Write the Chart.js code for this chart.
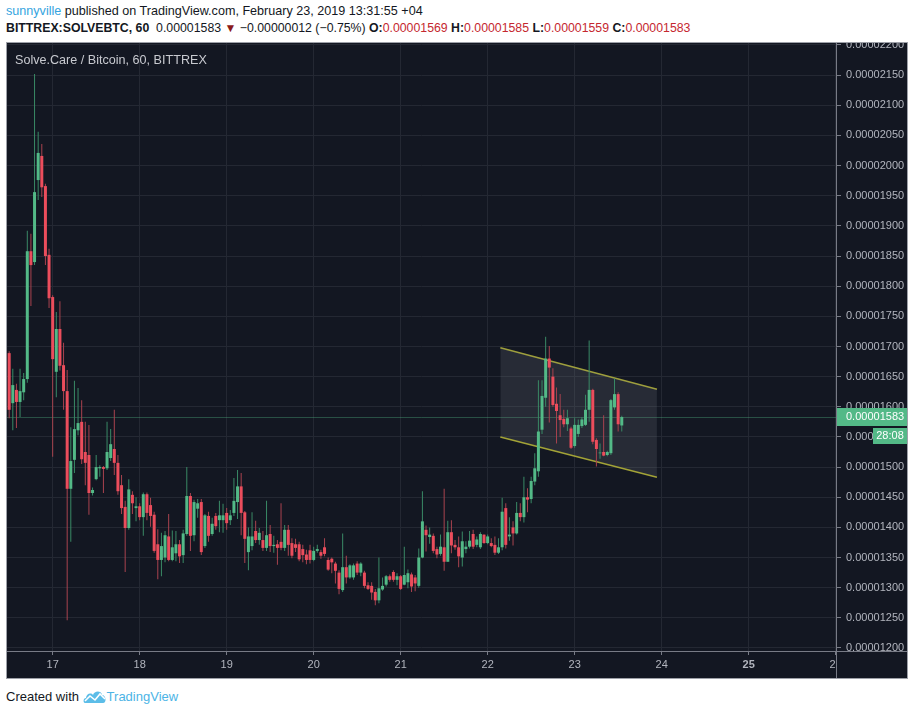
<!DOCTYPE html>
<html>
<head>
<meta charset="utf-8">
<title>SOLVEBTC, 60</title>
<script src="https://cdn.jsdelivr.net/npm/chart.js@4.4.1/dist/chart.umd.min.js"></script>
<style>
  body { margin:0; background:#fff; width:920px; height:715px; position:relative; overflow:hidden;
         font-family:"Liberation Sans", Arial, sans-serif; }
  .hdr { position:absolute; left:6px; font-size:12.6px; color:#131722; white-space:nowrap; }
  #hdr1 { top:4px; }
  #hdr2 { top:21px; font-size:12.3px; }
  .user { color:#35a4e0; }
  .red { color:#c5272f; }
  .tri { color:#8b1a1a; font-size:12px; }
  #frame { position:absolute; left:6px; top:42px; width:900px; height:635px; border:1px solid #9da0a8; background:#131722; }
  #myChart { display:block; }
  #title { position:absolute; left:8px; top:10px; color:#c8cad0; font-size:12.6px; white-space:nowrap; }
  #footer { position:absolute; left:6px; top:689px; font-size:13px; color:#131722; white-space:nowrap; }
  #footer .tv { color:#4cb4e6; }
</style>
</head>
<body>
<div class="hdr" id="hdr1"><span class="user">sunnyville</span> published on TradingView.com, February 23, 2019 13:31:55 +04</div>
<div class="hdr" id="hdr2"><b>BITTREX:SOLVEBTC, 60</b>&nbsp; 0.00001583 <span class="tri">&#9660;</span> &minus;0.00000012 (&minus;0.75%) <b>O:</b><span class="red">0.00001569</span> <b>H:</b><span class="red">0.00001585</span> <b>L:</b><span class="red">0.00001559</span> <b>C:</b><span class="red">0.00001583</span></div>

<div id="frame">
  <canvas id="myChart" width="900" height="635"></canvas>
  <div id="title">Solve.Care / Bitcoin, 60, BITTREX</div>
</div>

<div id="footer">Created with <svg width="24" height="15" viewBox="0 0 24 15" style="vertical-align:-3px"><path d="M2 14 C0 14 0 9 3 9 C3 5 8 3 10 6 C11 2 18 1 19 6 C23 6 24 14 20 14 Z" fill="#5cbde8"/><polyline points="2,12 7,7 12,11 17,5 22,10" fill="none" stroke="#fff" stroke-width="1.6"/></svg><span class="tv">TradingView</span></div>

<script>
// hourly candles, first one is Feb 16 12:00 (hours counted from Feb 16 00:00)
// prices are in satoshi (1e-8 BTC)
const firstHour = 12;

const openSat = [
  1689,1606,1628,1608,1624,1646,1858,1840,1976,2016,
  1966,1852,1782,1658,1729,1669,1626,1464,1512,1561,
  1575,1525,1520,1457,1480,1498,1500,1498,1515,1530,
  1507,1470,1434,1399,1454,1432,1435,1417,1455,1437,
  1421,1372,1346,1350,1385,1346,1357,1372,1354,1389,
  1452,1387,1431,1442,1369,1419,1389,1419,1412,1412,
  1424,1412,1424,1442,1468,1425,1359,1369,1394,1379,
  1379,1366,1389,1369,1372,1376,1366,1396,1374,1372,
  1372,1364,1355,1362,1346,1361,1359,1367,1346,1348,
  1340,1325,1296,1334,1317,1317,1340,1325,1325,1304,
  1303,1293,1279,1297,1305,1319,1326,1313,1319,1305,
  1309,1322,1317,1303,1350,1396,1384,1386,1364,1356,
  1367,1343,1392,1371,1367,1350,1364,1368,1389,1371,
  1367,1388,1374,1374,1371,1358,1367,1432,1385,1400,
  1390,1424,1417,1450,1447,1476,1493,1562,1615,1680,
  1650,1605,1586,1580,1571,1564,1535,1555,1568,1570,
  1595,1628,1545,1523,1525,1520,1523,1599,1621,1569
];
const highSat = [
  1692,1663,1638,1663,1656,1892,1887,2152,2056,2036,
  1970,1862,1785,1757,1775,1706,1661,1566,1643,1631,
  1611,1575,1570,1466,1520,1503,1502,1575,1563,1595,
  1520,1487,1444,1480,1460,1450,1440,1458,1458,1449,
  1426,1397,1391,1394,1422,1395,1394,1379,1396,1500,
  1457,1446,1447,1447,1422,1426,1416,1424,1444,1439,
  1432,1429,1482,1495,1490,1427,1400,1425,1411,1399,
  1394,1444,1404,1386,1379,1440,1404,1404,1382,1381,
  1376,1371,1363,1371,1368,1371,1363,1382,1350,1350,
  1343,1329,1390,1353,1339,1340,1344,1342,1328,1309,
  1309,1298,1350,1317,1321,1322,1329,1324,1321,1368,
  1330,1325,1321,1365,1460,1403,1400,1390,1368,1388,
  1464,1411,1412,1379,1385,1393,1377,1394,1396,1385,
  1392,1388,1388,1382,1385,1382,1449,1440,1417,1410,
  1442,1440,1484,1465,1484,1523,1644,1644,1716,1701,
  1664,1632,1621,1595,1595,1567,1581,1579,1583,1620,
  1710,1630,1548,1539,1586,1527,1613,1647,1624,1585
];
const lowSat = [
  1581,1561,1565,1583,1611,1640,1767,1835,1943,1948,
  1835,1764,1517,1616,1660,1595,1246,1376,1490,1553,
  1505,1470,1421,1453,1478,1484,1457,1495,1510,1487,
  1454,1422,1326,1396,1422,1410,1412,1386,1412,1401,
  1358,1314,1319,1342,1344,1344,1344,1341,1341,1386,
  1361,1377,1416,1354,1366,1376,1386,1396,1392,1391,
  1396,1404,1419,1414,1387,1341,1329,1362,1374,1371,
  1361,1361,1359,1358,1338,1362,1361,1353,1349,1359,
  1344,1342,1339,1340,1344,1358,1348,1352,1328,1324,
  1307,1289,1293,1307,1315,1313,1321,1319,1299,1296,
  1280,1271,1274,1295,1302,1310,1310,1304,1296,1304,
  1299,1293,1294,1300,1349,1360,1373,1357,1349,1353,
  1328,1343,1357,1363,1334,1335,1357,1365,1364,1367,
  1364,1373,1372,1367,1354,1356,1362,1365,1378,1370,
  1388,1410,1408,1425,1440,1470,1484,1555,1600,1574,
  1600,1539,1550,1566,1560,1530,1532,1550,1565,1568,
  1575,1538,1501,1514,1518,1518,1520,1595,1559,1559
];
const closeSat = [
  1595,1636,1608,1626,1646,1858,1835,1956,2021,1964,
  1850,1780,1679,1729,1668,1626,1464,1510,1563,1573,
  1513,1507,1457,1462,1500,1500,1497,1525,1538,1507,
  1460,1432,1399,1463,1440,1435,1417,1455,1424,1419,
  1361,1346,1369,1387,1346,1367,1372,1352,1390,1452,
  1386,1442,1440,1359,1420,1386,1406,1402,1420,1420,
  1407,1420,1444,1468,1424,1381,1385,1385,1379,1391,
  1366,1387,1369,1371,1366,1366,1396,1371,1353,1366,
  1347,1354,1346,1346,1361,1364,1353,1356,1330,1342,
  1328,1298,1334,1317,1337,1337,1325,1340,1303,1298,
  1292,1279,1299,1303,1319,1313,1313,1319,1298,1321,
  1324,1302,1307,1350,1410,1387,1388,1361,1355,1368,
  1343,1392,1370,1367,1352,1377,1368,1378,1368,1380,
  1389,1374,1385,1369,1358,1367,1426,1371,1388,1390,
  1424,1417,1450,1446,1477,1498,1559,1618,1680,1665,
  1603,1593,1578,1571,1581,1532,1570,1570,1579,1595,
  1628,1542,1530,1524,1519,1525,1611,1621,1571,1583
];

// time axis: day ticks
const dayTickHours = [24, 48, 72, 96, 120, 144, 168, 192, 216, 240];
const dayLabels = ['17', '18', '19', '20', '21', '22', '23', '24', '25', '26'];

// price axis
const priceMin = 1195, priceMax = 2203.3, priceStep = 50;

// parallel channel drawn on the chart
const channelHours = [147.5, 190.7];
const channelUpper = [1698, 1629];
const channelLower = [1550, 1483];

const lastPrice = 1583;
const countdown = '28:08';

// colors
const bgColor = '#131722';
const gridColor = '#242833';
const axisColor = '#787b86';
const textColor = '#b2b5be';
const upColor = '#53b987', downColor = '#eb4d5c';
const upWick = '#3a8a66', downWick = '#a9434f';
const fontFam = '"Liberation Sans", Arial, sans-serif';

const hours = openSat.map((v, i) => firstHour + i);
const isUp = i => closeSat[i] >= openSat[i];

const data = {
  datasets: [{
    label: 'wick',
    type: 'bar',
    data: hours.map((h, i) => ({ x: h, y: [lowSat[i], highSat[i]] })),
    backgroundColor: hours.map((h, i) => isUp(i) ? upWick : downWick),
    borderWidth: 0,
    grouped: false,
    barThickness: 1,
    maxBarThickness: 1,
    inflateAmount: 0,
    order: 1
  }, {
    label: 'body',
    type: 'bar',
    data: hours.map((h, i) => ({ x: h, y: [openSat[i], closeSat[i]] })),
    backgroundColor: hours.map((h, i) => isUp(i) ? upColor : downColor),
    borderWidth: 0,
    grouped: false,
    barThickness: 3,
    maxBarThickness: 3,
    inflateAmount: 0,
    order: 0
  }, {
    label: 'channel top',
    type: 'line',
    data: channelHours.map((h, i) => ({ x: h, y: channelUpper[i] })),
    borderColor: '#a3a337',
    borderWidth: 1.5,
    pointRadius: 0,
    fill: false,
    order: 3
  }, {
    label: 'channel bottom',
    type: 'line',
    data: channelHours.map((h, i) => ({ x: h, y: channelLower[i] })),
    borderColor: '#a3a337',
    borderWidth: 1.5,
    pointRadius: 0,
    fill: '-1',
    backgroundColor: 'rgba(120,123,134,0.2)',
    order: 2
  }]
};

// last price line, price tag, corner under the price axis
const tvPlugin = {
  id: 'tvBits',
  beforeDatasetsDraw(chart) {
    const { ctx, chartArea, scales } = chart;
    const y = Math.round(scales.y.getPixelForValue(lastPrice)) + 0.5;
    ctx.save();
    ctx.strokeStyle = 'rgba(83,185,135,0.35)';
    ctx.lineWidth = 1;
    ctx.beginPath();
    ctx.moveTo(chartArea.left, y);
    ctx.lineTo(chartArea.right, y);
    ctx.stroke();
    ctx.restore();
  },
  afterDraw(chart) {
    const { ctx, chartArea, scales } = chart;
    const r = chartArea.right, b = chartArea.bottom;
    ctx.save();
    ctx.fillStyle = bgColor;
    ctx.fillRect(r + 1, b + 1, chart.width - r, chart.height - b);
    ctx.strokeStyle = axisColor;
    ctx.lineWidth = 1;
    ctx.beginPath();
    ctx.moveTo(r, b + 0.5);
    ctx.lineTo(chart.width, b + 0.5);
    ctx.moveTo(r + 0.5, b);
    ctx.lineTo(r + 0.5, chart.height);
    ctx.stroke();

    // price tag
    const y = Math.round(scales.y.getPixelForValue(lastPrice));
    ctx.fillStyle = upColor;
    ctx.fillRect(r + 1, y - 9, chart.width - r, 18);
    ctx.fillRect(r + 37, y + 11, chart.width - r - 37, 16);
    ctx.fillStyle = '#ffffff';
    ctx.font = '11px ' + fontFam;
    ctx.textBaseline = 'middle';
    ctx.textAlign = 'left';
    ctx.fillText((lastPrice / 1e8).toFixed(8), r + 10, y);
    ctx.textAlign = 'center';
    ctx.fillText(countdown, r + 37 + (chart.width - r - 37) / 2, y + 19);
    ctx.restore();
  }
};

// config
const config = {
  type: 'bar',
  data: data,
  plugins: [tvPlugin],
  options: {
    responsive: false,
    animation: false,
    devicePixelRatio: 1,
    events: [],
    layout: { padding: 0 },
    plugins: {
      legend: { display: false },
      tooltip: { enabled: false }
    },
    scales: {
      x: {
        type: 'linear',
        min: 11.4,
        max: 240.1,
        offset: false,
        afterFit(s) { s.height = 27; s.paddingLeft = 0; s.paddingRight = 0; },
        afterBuildTicks(s) { s.ticks = dayTickHours.map(v => ({ value: v })); },
        border: { color: axisColor },
        grid: { color: gridColor, offset: false, tickColor: axisColor, tickLength: 4 },
        ticks: {
          autoSkip: false,
          maxRotation: 0,
          padding: 3,
          color: textColor,
          font: ctx => ({ family: fontFam, size: 11, weight: ctx.tick && ctx.tick.value === 216 ? 'bold' : 'normal' }),
          callback: v => dayLabels[dayTickHours.indexOf(v)]
        }
      },
      y: {
        position: 'right',
        min: priceMin,
        max: priceMax,
        afterFit(s) { s.width = 71; s.paddingTop = 0; s.paddingBottom = 0; },
        border: { color: axisColor },
        grid: { color: gridColor, tickColor: axisColor, tickLength: 5 },
        ticks: {
          stepSize: priceStep,
          includeBounds: false,
          padding: 5,
          color: textColor,
          font: { family: fontFam, size: 11 },
          callback: v => (v / 1e8).toFixed(8)
        }
      }
    }
  }
};

// render init block
const myChart = new Chart(
  document.getElementById('myChart'),
  config
);
</script>
</body>
</html>
